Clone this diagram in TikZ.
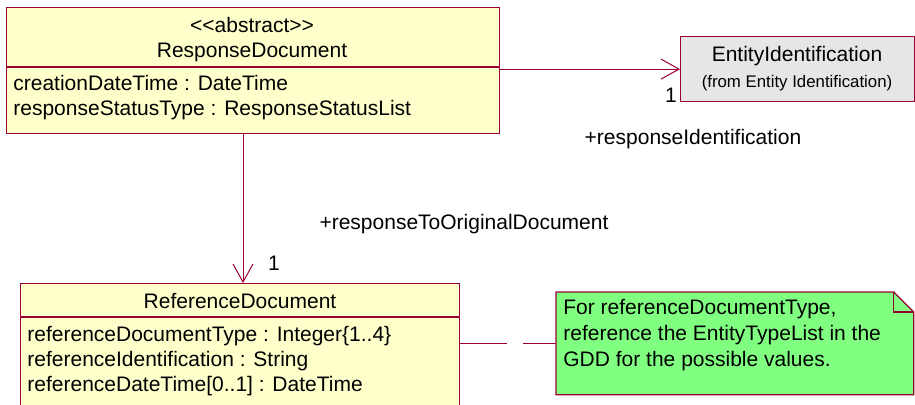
\documentclass[tikz,border=0pt]{standalone}
\usepackage{fontspec}
\setmainfont{Liberation Sans}
\usetikzlibrary{arrows.meta}

\definecolor{umlline}{HTML}{990033}
\definecolor{umlfill}{HTML}{FFFFCC}
\definecolor{pkgfill}{HTML}{E6E6E6}
\definecolor{notefill}{HTML}{80FF80}

\tikzset{
  classbox/.style={draw=umlline, fill=umlfill, line width=0.6pt, anchor=north west, inner sep=0pt},
  txt/.style={font=\fontsize{10.5}{12}\selectfont, inner sep=0pt, anchor=base},
  attr/.style={txt, anchor=base west},
  small/.style={font=\fontsize{8.4}{10}\selectfont, inner sep=0pt, anchor=base},
  assoc/.style={draw=umlline, line width=0.5pt, -{Straight Barb[length=9pt,width=10pt]}},
}

\begin{document}
\begin{tikzpicture}[x=0.5pt, y=-0.5pt]
		
		\useasboundingbox (0,0) rectangle (915,404);
		
		% abstract response class
		\node[classbox, minimum width=246.5pt, minimum height=63pt] (resp) at (6,7) {};
		\draw[umlline, line width=0.6pt] (resp.west |- 0,67) -- (resp.east |- 0,67);
		\node[txt] (respst) at (252,32) {<\kern0pt<abstract>\kern0pt>};
		\node[txt] (respname) at (252,57) {ResponseDocument};
		\node[attr] (respa1) at (13,90) {creationDateTime : DateTime};
		\node[attr] (respa2) at (13,115) {responseStatusType : ResponseStatusList};
		
		% entity identification (from other package)
		\node[classbox, draw=umlline, fill=pkgfill, minimum width=117pt, minimum height=32.5pt] (ent) at (680,36) {};
		\node[txt] (entname) at (797,61) {EntityIdentification};
		\node[small] (entpkg) at (797,87) {(from Entity Identification)};
		
		% reference document class
		\node[classbox, minimum width=219.5pt, minimum height=70pt] (refd) at (20,283) {};
		\draw[umlline, line width=0.6pt] (refd.west |- 0,317) -- (refd.east |- 0,317);
		\node[txt] (refname) at (240,308) {ReferenceDocument};
		\node[attr] (refa1) at (27,341) {referenceDocumentType : Integer\{1..4\}};
		\node[attr] (refa2) at (27,366) {referenceIdentification : String};
		\node[attr] (refa3) at (27,391) {referenceDateTime[0..1] : DateTime};
		
		% note
		\node[minimum width=178.5pt, minimum height=51pt, anchor=north west, inner sep=0pt] (note) at (556,292) {};
		\draw[umlline, fill=notefill, line width=0.6pt] (note.south west) -- (note.north west)
		  -- ([xshift=-10pt]note.north east) -- ([yshift=-10pt]note.north east)
		  -- (note.south east) -- cycle;
		\draw[umlline, line width=0.6pt] ([xshift=-10pt]note.north east) -- ++(0pt,-10pt) -- ([yshift=-10pt]note.north east);
		\node[attr] (notel1) at (563,314) {For referenceDocumentType,};
		\node[attr] (notel2) at (563,340) {reference the EntityTypeList in the};
		\node[attr] (notel3) at (563,366) {GDD for the possible values.};
		
		% associations
		\draw[assoc] (resp.east |- ent.west) -- (ent.west);
		\node[txt] (entmult) at (671,102) {1};
		\node[txt] (entrole) at (693,144) {+responseIdentification};
		
		\coordinate (down) at (243,0);
		\draw[assoc] (resp.south -| down) -- (refd.north -| down);
		\node[txt] (refmult) at (274,270) {1};
		\node[txt] (refrole) at (464,229) {+responseToOriginalDocument};
		
		% note link
		\draw[umlline, line width=0.6pt, dash pattern=on 23.5pt off 8pt] (refd.east |- note.west) -- (note.west);
		
	\end{tikzpicture}
\end{document}
